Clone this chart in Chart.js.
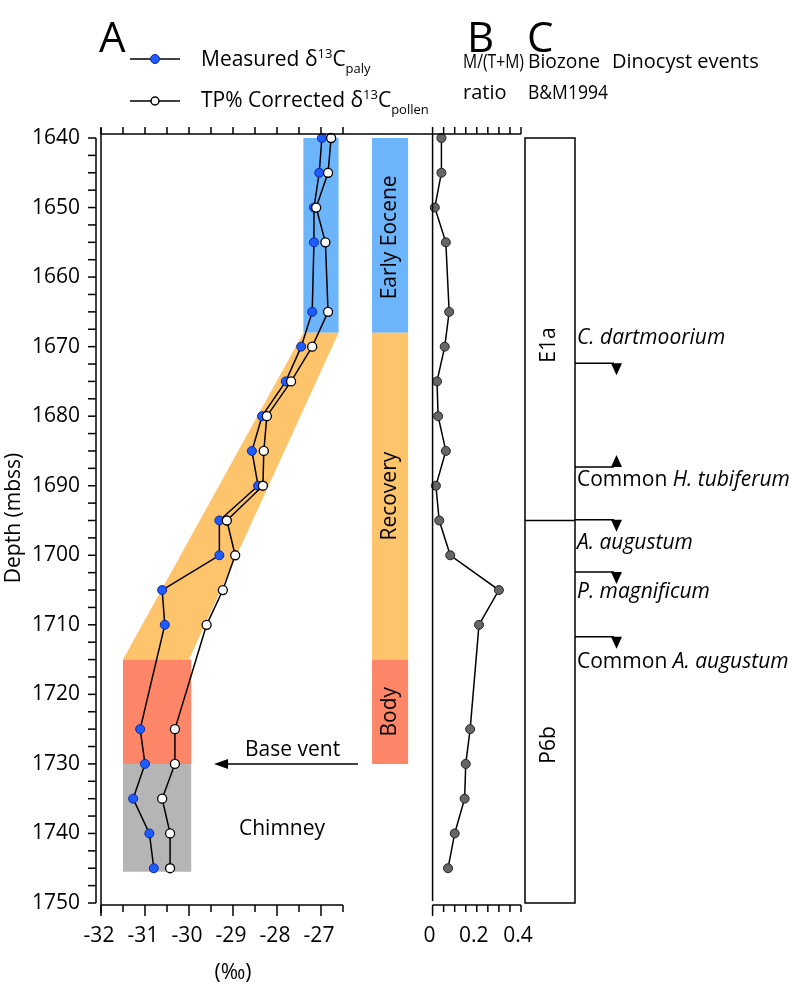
<!DOCTYPE html>
<html>
<head>
<meta charset="utf-8">
<script src="https://cdn.jsdelivr.net/npm/chart.js@4.4.1/dist/chart.umd.min.js"></script>
<style>
  body { margin: 0; background: #fff; }
  canvas { display: block; }
</style>
</head>
<body>
<canvas id="fig" width="793" height="985"></canvas>
<script>
// depth of each sample (mbss)
const depths = [1640, 1645, 1650, 1655, 1665, 1670, 1675, 1680, 1685, 1690, 1695, 1700, 1705, 1710, 1725, 1730, 1735, 1740, 1745];
// measured d13C paly (permil)
const measured = [-26.98, -27.04, -27.16, -27.16, -27.2, -27.45, -27.8, -28.34, -28.57, -28.43, -29.31, -29.31, -30.61, -30.55, -31.11, -31.0, -31.27, -30.9, -30.8];
// TP% corrected d13C pollen (permil)
const corrected = [-26.77, -26.84, -27.11, -26.9, -26.84, -27.2, -27.68, -28.23, -28.3, -28.32, -29.14, -28.95, -29.23, -29.6, -30.32, -30.32, -30.61, -30.43, -30.43];
// M/(T+M) ratio
const ratio = [0.04, 0.04, 0.01, 0.06, 0.075, 0.055, 0.02, 0.025, 0.06, 0.015, 0.03, 0.08, 0.30, 0.21, 0.17, 0.15, 0.145, 0.10, 0.07];

// tick labels
const depthTicks = [1640, 1650, 1660, 1670, 1680, 1690, 1700, 1710, 1720, 1730, 1740, 1750];
const isoTicks = [-32, -31, -30, -29, -28, -27];
const ratioTicks = [0, 0.2, 0.4];

// PETM phases (depth intervals)
const phaseNames = ['Early Eocene', 'Recovery', 'Body'];
const phaseTop = [1640, 1668, 1715];
const phaseBase = [1668, 1715, 1730];
const phaseColors = ['#6db5fb', '#fec46c', '#fd8668'];

// envelope behind the isotope curves: [d13C, depth]
const bandEarly = [[-27.4, 1640], [-26.6, 1640], [-26.6, 1668], [-27.4, 1668]];
const bandRecovery = [[-27.4, 1668], [-26.6, 1668], [-30.0, 1715], [-31.5, 1715]];
const bandBody = [[-31.5, 1715], [-29.95, 1715], [-29.95, 1730], [-31.5, 1730]];
const bandChimney = [[-31.5, 1730], [-29.95, 1730], [-29.95, 1745.5], [-31.5, 1745.5]];

// biozones and dinocyst events (B&M1994)
const biozones = ['E1a', 'P6b'];
const biozoneTop = [1640, 1695];
const biozoneBase = [1695, 1750];
const eventNames = [
  ['', 'C. dartmoorium'],
  ['Common ', 'H. tubiferum'],
  ['', 'A. augustum'],
  ['', 'P. magnificum'],
  ['Common ', 'A. augustum']
];
const eventDepths = [1672.4, 1687.3, 1694.9, 1702.4, 1711.7];
const eventDirs = ['down', 'up', 'down', 'down', 'down'];

const FONT = '"Open Sans", sans-serif';
const PLOT = { left: 101, right: 521, top: 138, bottom: 903 };
const A_PX_PER_UNIT = 44;
const labelOffset = [-25, 13, 23, 20, 25];

function pts(xs) {
  return depths.map((d, i) => ({ x: xs[i], y: d }));
}

function drawRuns(ctx, x, y, parts) {
  let cx = x;
  parts.forEach(p => {
    ctx.font = p.font;
    ctx.fillText(p.t, cx, y + (p.dy || 0));
    cx += ctx.measureText(p.t).width;
  });
}

// text squeezed horizontally to a given width (reference font is narrower)
function fitText(ctx, t, x, y, font, width) {
  ctx.save();
  ctx.font = font;
  const w = ctx.measureText(t).width;
  ctx.translate(x, y);
  ctx.scale(Math.min(1, width / w), 1);
  ctx.fillText(t, 0, 0);
  ctx.restore();
}

function vText(ctx, t, x, y, font) {
  ctx.save();
  ctx.translate(x, y);
  ctx.rotate(-Math.PI / 2);
  ctx.font = font;
  ctx.textAlign = 'center';
  ctx.textBaseline = 'middle';
  ctx.fillText(t, 0, 0);
  ctx.restore();
}

function poly(ctx, xs, ys, verts, color) {
  ctx.beginPath();
  verts.forEach((v, i) => {
    const px = xs.getPixelForValue(v[0]);
    const py = ys.getPixelForValue(v[1]);
    if (i === 0) ctx.moveTo(px, py); else ctx.lineTo(px, py);
  });
  ctx.closePath();
  ctx.fillStyle = color;
  ctx.fill();
}

const figPlugin = {
  id: 'figParts',
  beforeDatasetsDraw(chart) {
    const { ctx, scales: { xA, y } } = chart;
    ctx.save();
    poly(ctx, xA, y, bandEarly, phaseColors[0]);
    poly(ctx, xA, y, bandRecovery, phaseColors[1]);
    poly(ctx, xA, y, bandBody, phaseColors[2]);
    poly(ctx, xA, y, bandChimney, '#b5b5b5');
    // phase column
    phaseNames.forEach((n, i) => {
      poly(ctx, xA, y, [[-25.84, phaseTop[i]], [-25.02, phaseTop[i]], [-25.02, phaseBase[i]], [-25.84, phaseBase[i]]], phaseColors[i]);
    });
    ctx.restore();
  },
  afterDraw(chart) {
    const { ctx, scales: { xA, xB, y } } = chart;
    const top = PLOT.top - 4, bot = PLOT.bottom + 2;
    ctx.save();
    ctx.strokeStyle = '#000';
    ctx.fillStyle = '#000';
    ctx.lineWidth = 1.5;

    const line = (x1, y1, x2, y2) => {
      ctx.beginPath(); ctx.moveTo(x1, y1); ctx.lineTo(x2, y2); ctx.stroke();
    };

    // depth axis (offset) and plot left border
    const yAxisX = PLOT.left - 5;
    line(yAxisX, y.getPixelForValue(1640), yAxisX, y.getPixelForValue(1750));
    for (let d = 1640; d <= 1750; d += 2.5) {
      const py = y.getPixelForValue(d);
      line(yAxisX - 8, py, yAxisX, py);
    }
    line(PLOT.left, top - 6, PLOT.left, bot + 8);

    // top axis
    line(PLOT.left, top, PLOT.right, top);
    for (let v = -32; v <= -26.5; v += 0.5) {
      const px = xA.getPixelForValue(v);
      line(px, top - 7, px, top);
    }
    for (let v = 0; v <= 0.4001; v += 0.05) {
      const px = xB.getPixelForValue(v);
      line(px, top - 7, px, top);
    }

    // bottom axes
    line(PLOT.left, bot, xA.getPixelForValue(-26.5), bot);
    for (let v = -32; v <= -26.5; v += 0.5) {
      const px = xA.getPixelForValue(v);
      line(px, bot, px, bot + (Number.isInteger(v) ? 11 : 7));
    }
    line(xB.getPixelForValue(0), bot, PLOT.right, bot);
    for (let v = 0; v <= 0.4001; v += 0.05) {
      const px = xB.getPixelForValue(v);
      line(px, bot, px, bot + (v < 0.01 ? 11 : 7));
    }
    // ratio zero line
    line(xB.getPixelForValue(0), top, xB.getPixelForValue(0), bot - 4);

    // tick labels
    ctx.font = '21px ' + FONT;
    ctx.textAlign = 'right';
    ctx.textBaseline = 'middle';
    depthTicks.forEach(d => ctx.fillText(String(d), PLOT.left - 21, y.getPixelForValue(d)));
    ctx.textAlign = 'center';
    isoTicks.forEach(v => ctx.fillText(String(v), xA.getPixelForValue(v) - 2, 936));
    ratioTicks.forEach(v => ctx.fillText(String(v), xB.getPixelForValue(v) - 3, 936));
    ctx.fillText('(‰)', 233, 973);
    vText(ctx, 'Depth (mbss)', 14, 518, '21px ' + FONT);

    // phase labels
    ctx.fillStyle = '#000';
    phaseNames.forEach((n, i) => {
      const cy = (y.getPixelForValue(phaseTop[i]) + y.getPixelForValue(phaseBase[i])) / 2;
      vText(ctx, n, xA.getPixelForValue(-25.43), cy + (i === 0 ? 2 : 0), '21px ' + FONT);
    });

    // base vent arrow
    const ay = y.getPixelForValue(1730);
    const ax1 = xA.getPixelForValue(-26.16), ax2 = xA.getPixelForValue(-29.43);
    line(ax1, ay, ax2 + 8, ay);
    ctx.beginPath();
    ctx.moveTo(ax2, ay); ctx.lineTo(ax2 + 14, ay - 5); ctx.lineTo(ax2 + 14, ay + 5); ctx.closePath(); ctx.fill();
    ctx.font = '21px ' + FONT;
    ctx.textAlign = 'left';
    ctx.fillText('Base vent', 245, y.getPixelForValue(1728));
    ctx.textAlign = 'center';
    ctx.fillText('Chimney', 282, y.getPixelForValue(1739.4));

    // panel C: biozone column
    const cL = 525, cR = 575;
    ctx.strokeRect(cL, PLOT.top, cR - cL, PLOT.bottom - PLOT.top);
    biozones.forEach((b, i) => {
      if (i > 0) line(cL, y.getPixelForValue(biozoneTop[i]), cR, y.getPixelForValue(biozoneTop[i]));
      vText(ctx, b, 549, i === 0 ? 345 : 745, '21px ' + FONT);
    });

    // dinocyst events
    eventNames.forEach((p, i) => {
      const ly = y.getPixelForValue(eventDepths[i]);
      line(cR, ly, 614, ly);
      ctx.beginPath();
      const dy = eventDirs[i] === 'down' ? 12 : -12;
      ctx.moveTo(611, ly); ctx.lineTo(622, ly); ctx.lineTo(616.5, ly + dy); ctx.closePath(); ctx.fill();
      ctx.textAlign = 'left';
      ctx.textBaseline = 'middle';
      drawRuns(ctx, 577, ly + labelOffset[i], [
        { t: p[0], font: '21px ' + FONT },
        { t: p[1], font: 'italic 21px ' + FONT }
      ]);
    });

    // headings
    ctx.textAlign = 'left';
    ctx.textBaseline = 'alphabetic';
    ctx.font = '42px ' + FONT;
    ctx.fillText('A', 99, 52);
    ctx.fillText('B', 467, 52);
    ctx.fillText('C', 527, 52);

    // legend
    ctx.textBaseline = 'middle';
    line(130, 59, 180, 59);
    ctx.beginPath(); ctx.arc(155, 59, 4.5, 0, Math.PI * 2);
    ctx.fillStyle = '#1f5cff'; ctx.fill(); ctx.lineWidth = 1; ctx.strokeStyle = '#0b2a9e'; ctx.stroke();
    ctx.lineWidth = 1.5; ctx.strokeStyle = '#000';
    line(130, 101, 180, 101);
    ctx.beginPath(); ctx.arc(155, 101, 4, 0, Math.PI * 2);
    ctx.fillStyle = '#fff'; ctx.fill(); ctx.stroke();
    ctx.fillStyle = '#000';
    drawRuns(ctx, 201, 60, [
      { t: 'Measured δ', font: '21px ' + FONT },
      { t: '13', font: '13px ' + FONT, dy: -6 },
      { t: 'C', font: '21px ' + FONT },
      { t: 'paly', font: '13px ' + FONT, dy: 9 }
    ]);
    drawRuns(ctx, 201, 101, [
      { t: 'TP% Corrected δ', font: '21px ' + FONT },
      { t: '13', font: '13px ' + FONT, dy: -6 },
      { t: 'C', font: '21px ' + FONT },
      { t: 'pollen', font: '13px ' + FONT, dy: 9 }
    ]);
    const hf = '20px ' + FONT;
    fitText(ctx, 'M/(T+M)', 463, 62, hf, 61);
    fitText(ctx, 'ratio', 463, 93, hf, 60);
    fitText(ctx, 'Biozone', 528, 62, hf, 72);
    fitText(ctx, 'Dinocyst events', 612, 62, hf, 156);
    fitText(ctx, 'B&M1994', 528, 93, hf, 80);
    ctx.restore();
  }
};

new Chart(document.getElementById('fig'), {
  type: 'scatter',
  data: {
    datasets: [
      {
        label: 'Measured δ13C paly',
        data: pts(measured),
        xAxisID: 'xA', yAxisID: 'y',
        showLine: true, borderColor: '#000', borderWidth: 1.5,
        pointRadius: 4.5, pointBackgroundColor: '#1f5cff', pointBorderColor: '#0b2a9e', pointBorderWidth: 1,
        clip: false, order: 2
      },
      {
        label: 'TP% Corrected δ13C pollen',
        data: pts(corrected),
        xAxisID: 'xA', yAxisID: 'y',
        showLine: true, borderColor: '#000', borderWidth: 1.5,
        pointRadius: 4.5, pointBackgroundColor: '#fff', pointBorderColor: '#000', pointBorderWidth: 1.3,
        clip: false, order: 1
      },
      {
        label: 'M/(T+M) ratio',
        data: pts(ratio),
        xAxisID: 'xB', yAxisID: 'y',
        showLine: true, borderColor: '#000', borderWidth: 1.5,
        pointRadius: 4.5, pointBackgroundColor: '#666', pointBorderColor: '#222', pointBorderWidth: 1,
        clip: false, order: 1
      }
    ]
  },
  options: {
    responsive: false,
    animation: false,
    layout: { padding: { left: PLOT.left, right: 793 - PLOT.right, top: PLOT.top, bottom: 985 - PLOT.bottom } },
    plugins: { legend: { display: false }, tooltip: { enabled: false } },
    scales: {
      y: { type: 'linear', reverse: true, min: 1640, max: 1750, display: false },
      xA: { type: 'linear', position: 'bottom', min: -32, max: -32 + (PLOT.right - PLOT.left) / A_PX_PER_UNIT, display: false },
      xB: { type: 'linear', position: 'bottom', min: -1.5, max: 0.4, display: false }
    }
  },
  plugins: [figPlugin]
});
</script>
</body>
</html>
